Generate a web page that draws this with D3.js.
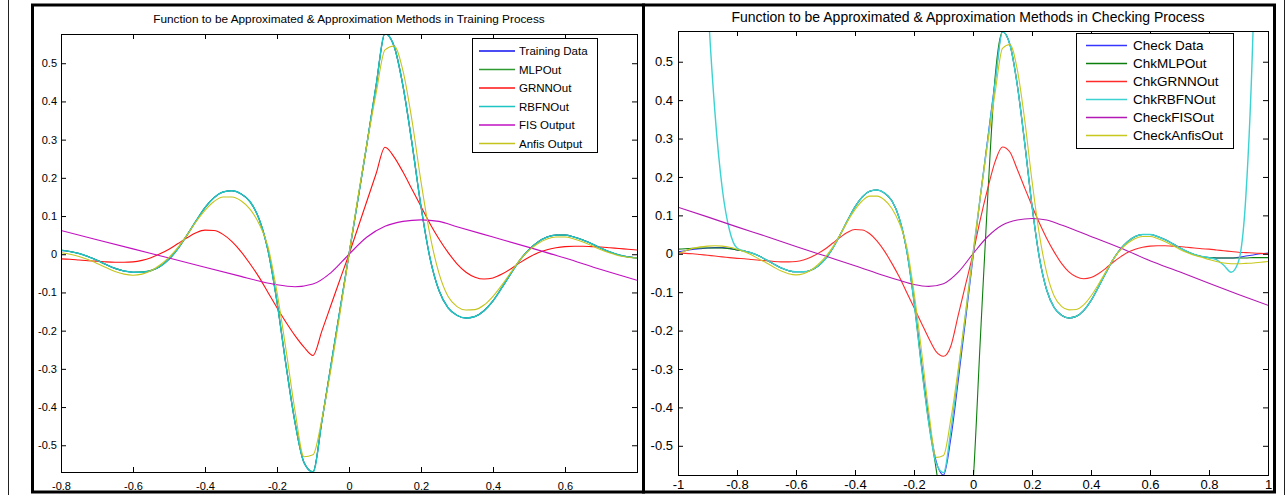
<!DOCTYPE html>
<html>
<head>
<meta charset="utf-8">
<script src="https://cdn.jsdelivr.net/npm/d3@7"></script>
<style>
  html, body { margin: 0; padding: 0; background: #fff; }
  svg { display: block; font-family: "Liberation Sans", Arial, sans-serif; }
</style>
</head>
<body>
<svg id="fig" width="1287" height="495"></svg>
<script>
// ---------- Training process (x in [-0.8, 0.8]) ----------
const trainX = [-0.8,-0.775,-0.75,-0.725,-0.7,-0.675,-0.65,-0.625,-0.6,-0.575,-0.55,-0.525,-0.5,-0.475,-0.45,-0.425,-0.4,-0.375,-0.35,-0.325,-0.3,-0.275,-0.25,-0.225,-0.2,-0.175,-0.15,-0.125,-0.1,-0.075,-0.05,-0.025,0,0.025,0.05,0.075,0.1,0.125,0.15,0.175,0.2,0.225,0.25,0.275,0.3,0.325,0.35,0.375,0.4,0.425,0.45,0.475,0.5,0.525,0.55,0.575,0.6,0.625,0.65,0.675,0.7,0.725,0.75,0.775,0.8];
const trainData = [0.010,0.007,0.002,-0.006,-0.016,-0.027,-0.037,-0.044,-0.047,-0.047,-0.043,-0.032,-0.013,0.015,0.050,0.087,0.122,0.148,0.163,0.166,0.158,0.138,0.093,0.010,-0.125,-0.290,-0.440,-0.545,-0.570,-0.435,-0.290,-0.145,0,0.145,0.290,0.440,0.578,0.545,0.440,0.290,0.125,-0.010,-0.095,-0.140,-0.160,-0.167,-0.163,-0.148,-0.122,-0.087,-0.050,-0.015,0.012,0.032,0.045,0.050,0.050,0.045,0.037,0.027,0.016,0.006,-0.002,-0.007,-0.010];
const mlpTrain = [0.011,0.007,0.002,-0.006,-0.016,-0.027,-0.037,-0.044,-0.047,-0.046,-0.042,-0.032,-0.013,0.015,0.050,0.087,0.122,0.148,0.163,0.166,0.158,0.137,0.093,0.010,-0.125,-0.290,-0.440,-0.545,-0.569,-0.435,-0.290,-0.145,0,0.145,0.290,0.440,0.577,0.545,0.440,0.290,0.125,-0.010,-0.095,-0.140,-0.160,-0.167,-0.163,-0.148,-0.122,-0.087,-0.050,-0.015,0.012,0.032,0.045,0.050,0.050,0.045,0.037,0.027,0.016,0.006,-0.002,-0.007,-0.010];
const grnnTrain = [-0.012,-0.013,-0.015,-0.017,-0.018,-0.020,-0.021,-0.021,-0.020,-0.016,-0.009,0.001,0.013,0.028,0.043,0.056,0.063,0.062,0.052,0.033,0.007,-0.025,-0.060,-0.100,-0.140,-0.178,-0.213,-0.243,-0.265,-0.200,-0.133,-0.066,0,0.070,0.140,0.210,0.280,0.255,0.215,0.170,0.125,0.080,0.040,0.005,-0.025,-0.047,-0.060,-0.065,-0.062,-0.052,-0.038,-0.022,-0.008,0.004,0.012,0.017,0.020,0.021,0.021,0.020,0.019,0.017,0.015,0.013,0.011];
const rbfnTrain = [0.010,0.007,0.002,-0.006,-0.016,-0.027,-0.037,-0.044,-0.047,-0.047,-0.043,-0.032,-0.013,0.015,0.050,0.087,0.122,0.148,0.163,0.166,0.158,0.138,0.093,0.010,-0.125,-0.290,-0.440,-0.545,-0.570,-0.435,-0.290,-0.145,0,0.145,0.290,0.440,0.578,0.545,0.440,0.290,0.125,-0.010,-0.095,-0.140,-0.160,-0.167,-0.163,-0.148,-0.122,-0.087,-0.050,-0.015,0.012,0.032,0.045,0.050,0.050,0.045,0.037,0.027,0.016,0.006,-0.002,-0.007,-0.010];
const anfisTrain = [0.004,0.000,-0.006,-0.014,-0.024,-0.035,-0.045,-0.052,-0.055,-0.052,-0.043,-0.028,-0.008,0.018,0.050,0.085,0.115,0.138,0.150,0.150,0.140,0.118,0.080,0.020,-0.100,-0.250,-0.410,-0.530,-0.525,-0.430,-0.300,-0.155,0,0.150,0.290,0.420,0.535,0.545,0.480,0.350,0.190,0.050,-0.050,-0.110,-0.137,-0.146,-0.145,-0.133,-0.110,-0.080,-0.047,-0.015,0.010,0.028,0.040,0.045,0.045,0.040,0.032,0.022,0.012,0.003,-0.004,-0.008,-0.010];
const fisTrainX = [-0.8,-0.7,-0.6,-0.5,-0.4,-0.3,-0.25,-0.2,-0.15,-0.1,-0.05,0,0.05,0.1,0.15,0.2,0.25,0.3,0.4,0.5,0.6,0.7,0.8];
const fisTrain = [0.062,0.038,0.014,-0.010,-0.034,-0.058,-0.070,-0.080,-0.085,-0.078,-0.048,0,0.045,0.073,0.086,0.090,0.086,0.072,0.045,0.018,-0.010,-0.040,-0.068];

// ---------- Checking process (x in [-1, 1]) ----------
const checkX = [-1,-0.975,-0.95,-0.925,-0.9,-0.875,-0.85,-0.825,-0.8,-0.775,-0.75,-0.725,-0.7,-0.675,-0.65,-0.625,-0.6,-0.575,-0.55,-0.525,-0.5,-0.475,-0.45,-0.425,-0.4,-0.375,-0.35,-0.325,-0.3,-0.275,-0.25,-0.225,-0.2,-0.175,-0.15,-0.125,-0.1,-0.075,-0.05,-0.025,0,0.025,0.05,0.075,0.1,0.125,0.15,0.175,0.2,0.225,0.25,0.275,0.3,0.325,0.35,0.375,0.4,0.425,0.45,0.475,0.5,0.525,0.55,0.575,0.6,0.625,0.65,0.675,0.7,0.725,0.75,0.775,0.8,0.825,0.85,0.875,0.9,0.925,0.95,0.975,1];
const checkData = [0.005,0.008,0.011,0.013,0.015,0.016,0.016,0.014,0.010,0.007,0.002,-0.006,-0.016,-0.027,-0.037,-0.044,-0.047,-0.047,-0.043,-0.032,-0.013,0.015,0.050,0.087,0.122,0.148,0.163,0.166,0.158,0.138,0.093,0.010,-0.120,-0.280,-0.430,-0.540,-0.576,-0.480,-0.330,-0.170,-0.010,0.150,0.300,0.450,0.578,0.545,0.440,0.290,0.125,-0.010,-0.095,-0.140,-0.160,-0.167,-0.163,-0.148,-0.122,-0.087,-0.050,-0.015,0.012,0.032,0.045,0.050,0.050,0.045,0.037,0.027,0.016,0.006,-0.002,-0.007,-0.010,-0.011,-0.011,-0.011,-0.009,-0.006,-0.003,0.000,0.002];
const mlpCheck = [0.012,0.013,0.014,0.015,0.015,0.015,0.015,0.013,0.010,0.007,0.002,-0.006,-0.016,-0.027,-0.037,-0.044,-0.047,-0.047,-0.043,-0.032,-0.013,0.015,0.050,0.087,0.122,0.148,0.163,0.166,0.158,0.138,0.093,0.010,-0.125,-0.290,-0.440,-0.560,-0.700,-0.800,-0.850,-0.800,-0.600,-0.220,0.150,0.460,0.578,0.545,0.440,0.290,0.125,-0.010,-0.095,-0.140,-0.160,-0.167,-0.163,-0.148,-0.122,-0.087,-0.050,-0.015,0.012,0.032,0.045,0.050,0.050,0.045,0.037,0.027,0.016,0.006,-0.002,-0.007,-0.010,-0.011,-0.011,-0.011,-0.011,-0.011,-0.010,-0.010,-0.010];
const grnnCheck = [0.003,0.001,0.000,-0.002,-0.004,-0.006,-0.008,-0.010,-0.012,-0.013,-0.015,-0.017,-0.018,-0.020,-0.021,-0.021,-0.020,-0.016,-0.009,0.001,0.013,0.028,0.043,0.056,0.063,0.062,0.052,0.033,0.007,-0.025,-0.060,-0.100,-0.140,-0.180,-0.220,-0.255,-0.267,-0.240,-0.160,-0.080,0,0.090,0.170,0.240,0.278,0.265,0.220,0.172,0.125,0.080,0.040,0.005,-0.025,-0.047,-0.060,-0.065,-0.062,-0.052,-0.038,-0.022,-0.008,0.004,0.012,0.017,0.020,0.021,0.021,0.020,0.019,0.017,0.015,0.013,0.012,0.010,0.008,0.006,0.004,0.003,0.002,0.001,0.000];
const rbfnCheck = [4.000,3.000,2.000,1.200,0.680,0.370,0.170,0.060,0.015,0.007,0.002,-0.006,-0.016,-0.027,-0.037,-0.044,-0.047,-0.047,-0.043,-0.032,-0.013,0.015,0.050,0.087,0.122,0.148,0.163,0.166,0.158,0.138,0.093,0.010,-0.125,-0.290,-0.440,-0.545,-0.570,-0.460,-0.310,-0.155,0,0.150,0.295,0.445,0.578,0.545,0.440,0.290,0.125,-0.010,-0.095,-0.140,-0.160,-0.167,-0.163,-0.148,-0.122,-0.087,-0.050,-0.015,0.012,0.032,0.045,0.050,0.050,0.045,0.037,0.027,0.016,0.006,-0.002,-0.007,-0.010,-0.015,-0.030,-0.048,-0.020,0.150,0.600,1.500,3.000];
const anfisCheck = [0.000,0.008,0.014,0.018,0.020,0.021,0.020,0.017,0.012,0.005,-0.003,-0.014,-0.024,-0.035,-0.045,-0.052,-0.055,-0.052,-0.043,-0.028,-0.008,0.018,0.050,0.085,0.115,0.138,0.150,0.150,0.140,0.118,0.080,0.020,-0.100,-0.250,-0.410,-0.530,-0.525,-0.430,-0.300,-0.155,0,0.150,0.290,0.420,0.535,0.545,0.480,0.350,0.190,0.050,-0.050,-0.110,-0.137,-0.146,-0.145,-0.133,-0.110,-0.080,-0.047,-0.015,0.010,0.028,0.040,0.045,0.045,0.040,0.032,0.022,0.012,0.003,-0.004,-0.009,-0.015,-0.020,-0.024,-0.026,-0.026,-0.025,-0.024,-0.022,-0.020];
const fisCheckX = [-1,-0.9,-0.8,-0.7,-0.6,-0.5,-0.4,-0.3,-0.25,-0.2,-0.15,-0.1,-0.05,0,0.05,0.1,0.15,0.2,0.25,0.3,0.4,0.5,0.6,0.7,0.8,0.9,1];
const fisCheck = [0.121,0.096,0.070,0.045,0.019,-0.006,-0.031,-0.057,-0.069,-0.080,-0.085,-0.078,-0.048,0,0.045,0.075,0.088,0.092,0.088,0.075,0.045,0.015,-0.018,-0.047,-0.077,-0.106,-0.134];

// ---------- Tick labels ----------
const yTickValues = [-0.5,-0.4,-0.3,-0.2,-0.1,0,0.1,0.2,0.3,0.4,0.5];
const yTickLabels = ["-0.5","-0.4","-0.3","-0.2","-0.1","0","0.1","0.2","0.3","0.4","0.5"];
const trainXTicks = [-0.8,-0.6,-0.4,-0.2,0,0.2,0.4,0.6,0.8];
const trainXTickLabels = ["-0.8","-0.6","-0.4","-0.2","0","0.2","0.4","0.6",""];
const checkXTicks = [-1,-0.8,-0.6,-0.4,-0.2,0,0.2,0.4,0.6,0.8,1];
const checkXTickLabels = ["-1","-0.8","-0.6","-0.4","-0.2","0","0.2","0.4","0.6","0.8","1"];

const trainNames = ["Training Data","MLPOut","GRNNOut","RBFNOut","FIS Output","Anfis Output"];
const checkNames = ["Check Data","ChkMLPOut","ChkGRNNOut","ChkRBFNOut","CheckFISOut","CheckAnfisOut"];
const trainColors = ["#1010f0","#2f9a2f","#ff1010","#1fc4c4","#c010c0","#c4c41c"];
const checkColors = ["#3535ff","#0c7e0c","#ff2a2a","#3cd2d2","#b418b4","#c8c81e"];

const svg = d3.select("#fig");

// outer table rules
svg.append("line").attr("x1",8.5).attr("x2",8.5).attr("y1",0).attr("y2",495)
  .attr("stroke","#222").attr("stroke-width",1);
svg.append("line").attr("x1",1284.5).attr("x2",1284.5).attr("y1",0).attr("y2",495)
  .attr("stroke","#222").attr("stroke-width",1);

function panel(cfg) {
  const g = svg.append("g");
  const x = d3.scaleLinear().domain(cfg.xDomain).range([cfg.x0, cfg.x1]);
  const y = d3.scaleLinear().domain(cfg.yDomain).range([cfg.y1, cfg.y0]);

  const clipId = "clip" + cfg.id;
  g.append("clipPath").attr("id",clipId).append("rect")
    .attr("x",cfg.x0).attr("y",cfg.y0)
    .attr("width",cfg.x1-cfg.x0).attr("height",cfg.y1-cfg.y0);

  // series
  const lines = g.append("g").attr("clip-path",`url(#${clipId})`);
  cfg.series.forEach((s, i) => {
    const pts = s.x.map((xv, k) => [xv, s.y[k]]);
    const line = d3.line().x(d => x(d[0])).y(d => y(d[1])).curve(d3.curveMonotoneX);
    lines.append("path").attr("d", line(pts)).attr("fill","none")
      .attr("stroke", cfg.colors[i]).attr("stroke-width", s.w || 1.1)
      .attr("stroke-linejoin","round");
  });

  // axes with inward ticks on all four sides
  const tl = cfg.tick;
  const fs = cfg.fontSize;
  g.append("g").attr("transform",`translate(0,${cfg.y1})`)
    .call(d3.axisBottom(x).tickValues(cfg.xTicks).tickSizeInner(-tl).tickSizeOuter(0)
      .tickPadding(cfg.xPad).tickFormat((d,i) => cfg.xLabels[i]))
    .call(a => a.select(".domain").remove());
  g.append("g").attr("transform",`translate(0,${cfg.y0})`)
    .call(d3.axisTop(x).tickValues(cfg.xTicks).tickSizeInner(-tl).tickSizeOuter(0).tickFormat(""))
    .call(a => a.select(".domain").remove());
  g.append("g").attr("transform",`translate(${cfg.x0},0)`)
    .call(d3.axisLeft(y).tickValues(yTickValues).tickSizeInner(-tl).tickSizeOuter(0)
      .tickPadding(cfg.yPad).tickFormat((d,i) => yTickLabels[i]))
    .call(a => a.select(".domain").remove());
  g.append("g").attr("transform",`translate(${cfg.x1},0)`)
    .call(d3.axisRight(y).tickValues(yTickValues).tickSizeInner(-tl).tickSizeOuter(0).tickFormat(""))
    .call(a => a.select(".domain").remove());
  g.selectAll(".tick line").attr("stroke","#000");
  g.selectAll(".tick text").attr("font-size", fs).attr("fill","#000")
    .attr("font-family","'Liberation Sans', Arial, sans-serif");

  g.append("rect").attr("x",cfg.x0+0.5).attr("y",cfg.y0+0.5)
    .attr("width",cfg.x1-cfg.x0).attr("height",cfg.y1-cfg.y0)
    .attr("fill","none").attr("stroke","#000").attr("stroke-width",1);

  // title
  g.append("text").attr("x",cfg.titleX).attr("y",cfg.titleY)
    .attr("text-anchor","middle").attr("font-size",cfg.titleSize).attr("fill","#000")
    .text(cfg.title);

  // legend
  const L = cfg.legend;
  g.append("rect").attr("x",L.x+0.5).attr("y",L.y+0.5).attr("width",L.w).attr("height",L.h)
    .attr("fill","#fff").attr("stroke","#000").attr("stroke-width",1);
  cfg.names.forEach((name, i) => {
    const cy = L.y + L.first + i * L.step;
    g.append("line").attr("x1",L.x + L.l0).attr("x2",L.x + L.l1)
      .attr("y1",cy).attr("y2",cy).attr("stroke",cfg.colors[i]).attr("stroke-width",1.6);
    g.append("text").attr("x",L.x + L.t).attr("y",cy).attr("dy","0.35em")
      .attr("font-size",L.fs).attr("fill","#000").text(name);
  });

  // panel frame
  g.append("rect").attr("x",cfg.fx).attr("y",cfg.fy).attr("width",cfg.fw).attr("height",cfg.fh)
    .attr("fill","none").attr("stroke","#000").attr("stroke-width",3);
}

panel({
  id: "train",
  xDomain: [-0.8, 0.8], yDomain: [-0.570, 0.5765],
  x0: 61, x1: 637, y0: 34, y1: 472,
  xTicks: trainXTicks, xLabels: trainXTickLabels,
  tick: 5, xPad: 10, yPad: 4, fontSize: 11,
  title: "Function to be Approximated & Approximation Methods in Training Process",
  titleX: 349, titleY: 23, titleSize: 11.8,
  names: trainNames, colors: trainColors,
  series: [
    {x: trainX, y: trainData},
    {x: trainX, y: mlpTrain},
    {x: trainX, y: grnnTrain},
    {x: trainX, y: rbfnTrain, w: 1.4},
    {x: fisTrainX, y: fisTrain},
    {x: trainX, y: anfisTrain}
  ],
  legend: {x: 472, y: 38, w: 125, h: 114, first: 13, step: 18.5, l0: 7, l1: 43, t: 47, fs: 11.5},
  fx: 32.5, fy: 5, fw: 611, fh: 487
});

panel({
  id: "check",
  xDomain: [-1, 1], yDomain: [-0.576, 0.580],
  x0: 678, x1: 1268, y0: 31, y1: 475,
  xTicks: checkXTicks, xLabels: checkXTickLabels,
  tick: 5, xPad: 5, yPad: 5, fontSize: 13,
  title: "Function to be Approximated & Approximation Methods in Checking Process",
  titleX: 968, titleY: 22, titleSize: 14,
  names: checkNames, colors: checkColors,
  series: [
    {x: checkX, y: checkData},
    {x: checkX, y: mlpCheck},
    {x: checkX, y: grnnCheck},
    {x: checkX, y: rbfnCheck, w: 1.4},
    {x: fisCheckX, y: fisCheck},
    {x: checkX, y: anfisCheck}
  ],
  legend: {x: 1076, y: 33, w: 157, h: 115, first: 12.5, step: 18, l0: 10, l1: 51, t: 57, fs: 13.5},
  fx: 643.5, fy: 5, fw: 631, fh: 487
});
</script>
</body>
</html>
